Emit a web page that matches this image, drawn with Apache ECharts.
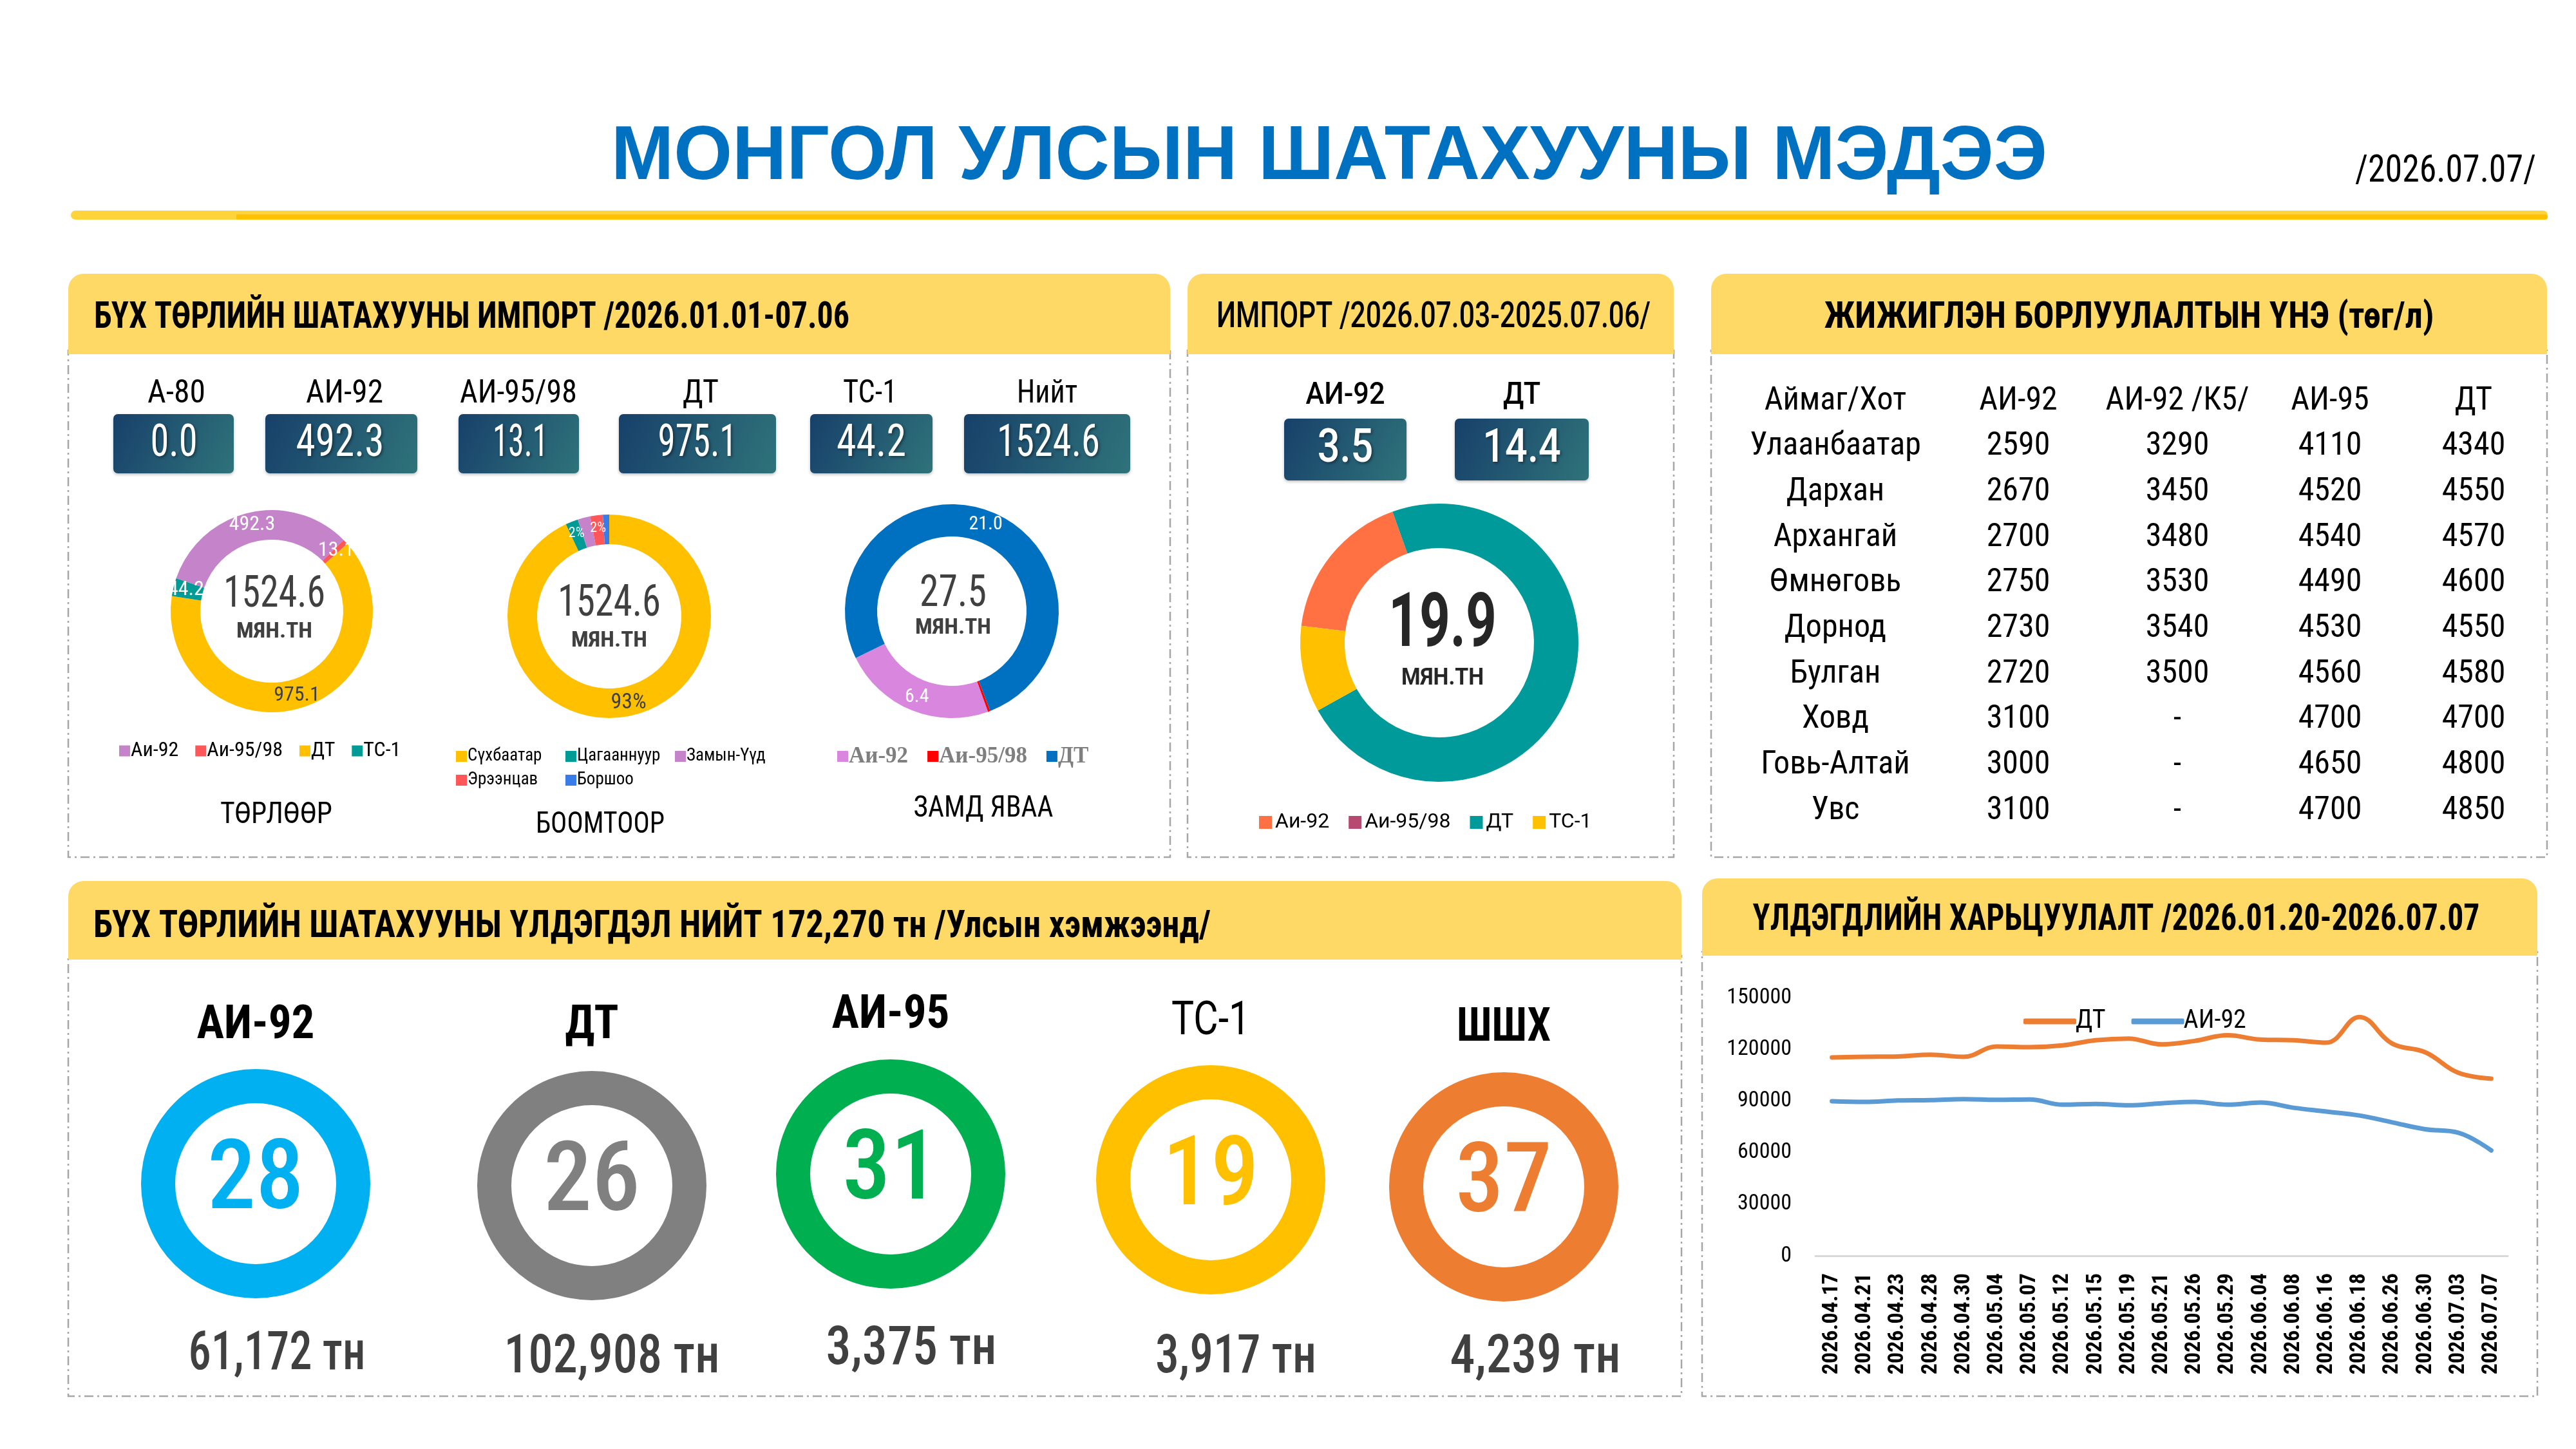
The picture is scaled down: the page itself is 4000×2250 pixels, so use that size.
<!DOCTYPE html>
<html><head><meta charset="utf-8">
<script src="https://cdn.jsdelivr.net/npm/echarts@6/dist/echarts.min.js"></script>
<style>html,body{margin:0;padding:0;background:#fff}#c{width:4000px;height:2250px}</style>
</head><body><div id="c"></div>
<script>
// ---------------- DATA ----------------
const importFuels = ['А-80','АИ-92','АИ-95/98','ДТ','ТС-1','Нийт'];
const importTotals = [0.0, 492.3, 13.1, 975.1, 44.2, 1524.6];
const byTypeNames = ['А-80','Аи-92','Аи-95/98','ДТ','ТС-1'];
const byTypeValues = [0, 492.3, 13.1, 975.1, 44.2];
const byPortNames = ['Сүхбаатар','Цагааннуур','Замын-Үүд','Эрээнцав','Боршоо'];
const byPortShares = [93, 2, 2, 2, 1];
const railNames = ['Аи-92','Аи-95/98','ДТ'];
const railValues = [6.4, 0.1, 21.0];
const railTotal = 27.5;
const weekFuels = ['АИ-92','ДТ'];
const weekTotals = [3.5, 14.4];
const weekNames = ['Аи-92','Аи-95/98','ДТ','ТС-1'];
const weekValues = [3.5, 0, 14.4, 2.0];
const weekTotal = 19.9;
const priceColumns = ['Аймаг/Хот','АИ-92','АИ-92 /К5/','АИ-95','ДТ'];
const priceRegions = ['Улаанбаатар','Дархан','Архангай','Өмнөговь','Дорнод','Булган','Ховд','Говь-Алтай','Увс'];
const priceAI92 = [2590,2670,2700,2750,2730,2720,3100,3000,3100];
const priceAI92K5 = [3290,3450,3480,3530,3540,3500,null,null,null];
const priceAI95 = [4110,4520,4540,4490,4530,4560,4700,4650,4700];
const priceDT = [4340,4550,4570,4600,4550,4580,4700,4800,4850];
const stockFuels = ['АИ-92','ДТ','АИ-95','ТС-1','ШШХ'];
const stockDays = [28,26,31,19,37];
const stockTons = [61172,102908,3375,3917,4239];
const stockTotal = 172270;
const trendDates = ['2026.04.17','2026.04.21','2026.04.23','2026.04.28','2026.04.30','2026.05.04','2026.05.07','2026.05.12','2026.05.15','2026.05.19','2026.05.21','2026.05.26','2026.05.29','2026.06.04','2026.06.08','2026.06.16','2026.06.18','2026.06.26','2026.06.30','2026.07.03','2026.07.07'];
const trendDT = [115200,115600,115800,116800,115600,121600,121200,122200,125200,126200,122800,124800,128100,125600,125200,123800,138700,123200,118200,106300,102900];
const trendAI92 = [89800,89400,90200,90400,91000,90600,90800,87800,88200,87400,88600,89400,87800,89000,86000,83800,81500,77500,73500,71500,61200];
const trendYMin = 0, trendYMax = 150000, trendYStep = 30000;

// ---------------- STYLE ----------------
const NARROW = "'Liberation Sans Narrow','Roboto Condensed','DejaVu Sans Condensed',Roboto,sans-serif";
const ROBOTO = "Roboto,'Noto Sans',sans-serif";
const SERIF = "'Liberation Serif','DejaVu Serif',serif";
const ARIAL = "'Liberation Sans',Arial,sans-serif";
const byTypeColors = ['#7F7F7F','#C583CA','#FF5757','#FFC000','#009B95'];
const byPortColors = ['#FFC000','#009B95','#C583CA','#FF5757','#3A7BEA'];
const railColors = ['#D986DE','#FF0000','#0070C0'];
const weekColors = ['#FF7043','#B84A72','#009A9A','#FFC000'];
const stockColors = ['#00B0F0','#808080','#00B050','#FFC000','#ED7D31'];

const mctx = document.createElement('canvas').getContext('2d');
function T(x, y, text, o) {
  o = o || {};
  const size = o.size || 40, fam = o.fam || NARROW, wt = o.wt || 'normal';
  let sx = o.sx || 1;
  if (o.w) { mctx.font = wt + ' ' + size + 'px ' + fam; sx = o.w / mctx.measureText(String(text)).width; }
  const st = {text: String(text), fontSize: size, fontFamily: fam, fontWeight: wt, fill: o.fill || '#000',
    align: o.align || 'center', verticalAlign: 'middle'};
  if (o.shadow) { st.textShadowColor = 'rgba(0,0,0,0.45)'; st.textShadowBlur = 4; st.textShadowOffsetX = 2; st.textShadowOffsetY = 2; }
  return {type: 'text', x: x, y: y, scaleX: sx, z: 20, silent: true, style: st};
}
const G = [];
function panel(x, y, w, h, hh) {
  G.push({type:'rect', z:0, silent:true, shape:{x:x, y:y+hh-6, width:w, height:h-hh+6},
    style:{fill:'#fff', stroke:'#A6A6A6', lineWidth:2.5, lineDash:[14,6,3,6]}});
  G.push({type:'rect', z:1, silent:true, shape:{x:x, y:y, width:w, height:hh, r:[24,24,0,0]}, style:{fill:'#FFD966'}});
}
const fmt = v => v.toLocaleString('en-US');

// ---------- Title ----------
G.push(T(2064, 245, 'МОНГОЛ УЛСЫН ШАТАХУУНЫ МЭДЭЭ', {size:118, fam:ARIAL, wt:'bold', fill:'#0070C0', w:2230}));
G.push(T(3938, 267, '/2026.07.07/', {size:60, align:'right', w:281}));
G.push({type:'rect', z:1, silent:true, shape:{x:110, y:327, width:3846, height:14, r:7}, style:{fill:'#FFD43B'}});
G.push({type:'rect', z:2, silent:true, shape:{x:367, y:333, width:3589, height:8, r:[0,4,4,0]}, style:{fill:'#FFC000'}});

// ---------- Panels ----------
panel(106, 425, 1711, 906, 125);
panel(1844, 425, 755, 906, 125);
panel(2657, 425, 1298, 906, 125);
panel(106, 1368, 2505, 800, 122);
panel(2643, 1364, 1297, 804, 120);

G.push(T(146, 494, 'БҮХ ТӨРЛИЙН ШАТАХУУНЫ ИМПОРТ /2026.01.01-07.06', {size:58, wt:'bold', align:'left', w:1173}));
G.push(T(2226, 494, 'ИМПОРТ /2026.07.03-2025.07.06/', {size:56, fam:ROBOTO, wt:'500', w:674}));
G.push(T(3306, 494, 'ЖИЖИГЛЭН БОРЛУУЛАЛТЫН ҮНЭ (төг/л)', {size:58, wt:'bold', w:947}));
G.push(T(145, 1440, 'БҮХ ТӨРЛИЙН ШАТАХУУНЫ ҮЛДЭГДЭЛ НИЙТ ' + fmt(stockTotal) + ' тн /Улсын хэмжээнд/', {size:60, wt:'bold', align:'left', w:1735}));
G.push(T(3286, 1429, 'ҮЛДЭГДЛИЙН ХАРЬЦУУЛАЛТ /2026.01.20-2026.07.07', {size:58, wt:'bold', w:1129}));

// ---------- Import boxes (panel 1) ----------
const boxX = [[176,363],[412,648],[712,899],[961,1205],[1258,1448],[1497,1755]];
const boxLabelX = [274,535,805,1088,1351,1626];
const boxLabelW = [90,120,182,56,84,94];
const boxValX = [270,528,808,1083,1353,1628];
const boxValW = [73,137,86,123,108,160];
function box(x0, x1, y, h) {
  G.push({type:'rect', z:5, silent:true, shape:{x:x0, y:y, width:x1-x0, height:h, r:7},
    style:{fill:{type:'linear', x:0, y:0, x2:1, y2:1, colorStops:[{offset:0,color:'#17406A'},{offset:1,color:'#2F737A'}]},
      shadowColor:'rgba(0,0,0,0.25)', shadowBlur:4, shadowOffsetY:2}});
}
importFuels.forEach((f, i) => {
  box(boxX[i][0], boxX[i][1], 643, 92);
  G.push(T(boxLabelX[i], 612, f, {size:50, w:boxLabelW[i]}));
  G.push(T(boxValX[i], 690, importTotals[i].toFixed(1), {size:70, fill:'#fff', shadow:true, w:boxValW[i]}));
});
// ---------- Import boxes (panel 2) ----------
const wBoxX = [[1994,2184],[2259,2467]];
weekFuels.forEach((f, i) => {
  box(wBoxX[i][0], wBoxX[i][1], 650, 96);
  const cx = (wBoxX[i][0] + wBoxX[i][1]) / 2;
  G.push(T(cx, 615, f, {size:48, fam:ROBOTO, wt:'500', sx:0.9}));
  G.push(T(cx, 699, weekTotals[i].toFixed(1), {size:72, fam:ROBOTO, wt:'500', fill:'#fff', sx:0.85, shadow:true}));
});

// ---------- Donut centre texts ----------
const grey = '#404040';
G.push(T(426, 925, importTotals[5].toFixed(1), {size:68, fill:grey, w:158}));
G.push(T(426, 981, 'МЯН.ТН', {size:34, wt:'bold', fill:grey, w:118}));
G.push(T(946, 939, importTotals[5].toFixed(1), {size:68, fill:grey, w:160}));
G.push(T(946, 995, 'МЯН.ТН', {size:34, wt:'bold', fill:grey, w:118}));
G.push(T(1480, 924, railTotal.toFixed(1), {size:68, fill:grey, w:104}));
G.push(T(1480, 975, 'МЯН.ТН', {size:34, wt:'bold', fill:grey, w:118}));
G.push(T(2240, 974, weekTotal.toFixed(1), {size:116, fam:ROBOTO, wt:'bold', fill:'#262626', w:168}));
G.push(T(2240, 1054, 'МЯН.ТН', {size:37, fam:ROBOTO, wt:'bold', fill:'#262626', w:128}));
G.push(T(429, 1266, 'ТӨРЛӨӨР', {size:46, w:174}));
G.push(T(932, 1281, 'БООМТООР', {size:46, w:200}));
G.push(T(1527, 1256, 'ЗАМД ЯВАА', {size:46, w:217}));

// ---------- Price table ----------
const colX = [2850, 3134, 3381, 3618, 3841];
const rowY0 = 623, rowStep = 70.7;
const priceCols = [priceRegions, priceAI92, priceAI92K5, priceAI95, priceDT];
priceColumns.forEach((c, j) => {
  G.push(T(colX[j], rowY0, c, {size:50}));
  priceCols[j].forEach((v, i) => G.push(T(colX[j], rowY0 + rowStep * (i + 1), v == null ? '-' : v, {size:50})));
});

// ---------- Stock (bottom-left) ----------
const stockCX = [397, 919, 1383, 1880, 2335];
const stockCY = [1838, 1841, 1823, 1832, 1843];
const stockLabelY = [1594, 1594, 1578, 1588, 1598];
const stockLabelW = [183, 83, 183, 122, 146];
const stockTonX = [430, 950, 1415, 1919, 2384];
const stockTonY = [2105, 2110, 2097, 2110, 2110];
const stockTonW = [275, 335, 265, 250, 265];
stockFuels.forEach((f, i) => {
  const isTS = f === 'ТС-1';
  G.push(T(stockCX[i], stockLabelY[i], f, {size:72, fam: isTS ? ROBOTO : NARROW, wt: isTS ? 'normal' : 'bold', w:stockLabelW[i]}));
  G.push(T(stockTonX[i], stockTonY[i], fmt(stockTons[i]) + ' тн', {size:84, wt:'500', fill:grey, w:stockTonW[i]}));
});

// ---------- Series ----------
const pieBase = {type:'pie', avoidLabelOverlap:false, labelLine:{show:false}, emphasis:{disabled:true}, silent:true};
const series = [];
series.push(Object.assign({}, pieBase, {
  name:'byType', center:[422, 949], radius:[111, 157], startAngle:161, clockwise:true,
  label:{show:true, position:'inside', color:'#fff', fontFamily:NARROW, fontSize:32,
    formatter: p => p.value === 0 ? '-' : p.value.toFixed(1)},
  data: byTypeNames.map((n, i) => ({name:n, value:byTypeValues[i], itemStyle:{color:byTypeColors[i]},
    label: n === 'ДТ' ? {color:grey} : undefined}))
}));
series.push(Object.assign({}, pieBase, {
  name:'byPort', center:[946, 957], radius:[112, 158], startAngle:90, clockwise:true,
  label:{show:true, position:'inside', color:'#fff', fontFamily:NARROW, fontSize:22, formatter: p => Math.round(p.percent) + '%'},
  data: byPortNames.map((n, i) => ({name:n, value:byPortShares[i], itemStyle:{color:byPortColors[i]},
    label: i === 0 ? {color:grey, fontSize:34} : (byPortShares[i] < 2 ? {show:false} : undefined)}))
}));
series.push(Object.assign({}, pieBase, {
  name:'rail', center:[1478, 949], radius:[116, 166], startAngle:206, clockwise:false,
  label:{show:true, position:'inside', color:'#fff', fontFamily:NARROW, fontSize:30, formatter: p => p.value.toFixed(1)},
  data: railNames.map((n, i) => ({name:n, value:railValues[i], itemStyle:{color:railColors[i]},
    label: railValues[i] < 1 ? {show:false} : undefined}))
}));
series.push(Object.assign({}, pieBase, {
  name:'week', center:[2235, 998], radius:[147, 216], startAngle:173, clockwise:true,
  label:{show:false},
  data: weekNames.map((n, i) => ({name:n, value:weekValues[i], itemStyle:{color:weekColors[i]}}))
}));
stockFuels.forEach((f, i) => {
  series.push(Object.assign({}, pieBase, {
    name:'stock' + i, center:[stockCX[i], stockCY[i]], radius:[125, 178],
    label:{show:true, position:'center', formatter:'{c}', fontFamily:NARROW, fontWeight:'500', fontSize:150, color:stockColors[i]},
    data:[{name:f + ' хоног', value:stockDays[i], itemStyle:{color:stockColors[i]}}]
  }));
});
series.push({type:'line', name:'ДТ', data:trendDT, smooth:0.4, symbol:'none', lineStyle:{width:7, color:'#ED7D31', cap:'round'}, itemStyle:{color:'#ED7D31'}, silent:true});
series.push({type:'line', name:'АИ-92', data:trendAI92, smooth:0.4, symbol:'none', lineStyle:{width:7, color:'#5B9BD5', cap:'round'}, itemStyle:{color:'#5B9BD5'}, silent:true});

function legendData(names, colors) { return names.map((n, i) => ({name:n, icon:'rect', itemStyle:{color:colors[i], borderWidth:0}})); }
const legends = [
  {left:185, top:1150, itemWidth:17, itemHeight:17, itemGap:26, padding:0, selectedMode:false,
    textStyle:{fontFamily:NARROW, fontSize:32, color:'#000', padding:[0,0,0,-4]}, data:legendData(byTypeNames.slice(1), byTypeColors.slice(1))},
  {left:708, top:1161, width:540, itemWidth:17, itemHeight:17, itemGap:10, padding:0, selectedMode:false,
    textStyle:{fontFamily:NARROW, fontSize:27, lineHeight:24, width:142, color:'#000', padding:[0,0,0,-4]}, data:legendData(byPortNames, byPortColors)},
  {left:1300, top:1157, itemWidth:17, itemHeight:17, itemGap:30, padding:0, selectedMode:false,
    textStyle:{fontFamily:SERIF, fontWeight:'bold', fontSize:35, color:'#7F7F7F', padding:[0,0,0,-4]}, data:legendData(railNames, railColors)},
  {left:1955, top:1261, itemWidth:20, itemHeight:20, itemGap:30, padding:0, selectedMode:false,
    textStyle:{fontFamily:ROBOTO, fontSize:32, color:'#000'}, data:legendData(weekNames, weekColors)},
  {left:3142, top:1566, itemWidth:82, itemHeight:9, itemGap:40, padding:0, selectedMode:false,
    textStyle:{fontFamily:NARROW, fontSize:40, color:'#000', padding:[0,0,0,-6]},
    data:[{name:'ДТ', icon:'roundRect', itemStyle:{color:'#ED7D31'}}, {name:'АИ-92', icon:'roundRect', itemStyle:{color:'#5B9BD5'}}]}
];

const option = {
  animation:false,
  backgroundColor:'#fff',
  legend: legends,
  grid:{left:2819, top:1549, width:1075, height:401},
  xAxis:{type:'category', data:trendDates, boundaryGap:true,
    axisLine:{lineStyle:{color:'#D9D9D9', width:3}}, axisTick:{show:false},
    axisLabel:{rotate:90, interval:0, fontFamily:NARROW, fontWeight:'bold', fontSize:34, color:'#000', margin:27}},
  yAxis:{type:'value', min:trendYMin, max:trendYMax, interval:trendYStep, splitLine:{show:false},
    axisLine:{show:false}, axisTick:{show:false},
    axisLabel:{fontFamily:NARROW, fontSize:34, color:'#000', margin:37, formatter: v => String(v)}},
  series: series,
  graphic: {elements: G}
};
const chart = echarts.init(document.getElementById('c'), null, {width:4000, height:2250});
chart.setOption(option);
</script></body></html>
